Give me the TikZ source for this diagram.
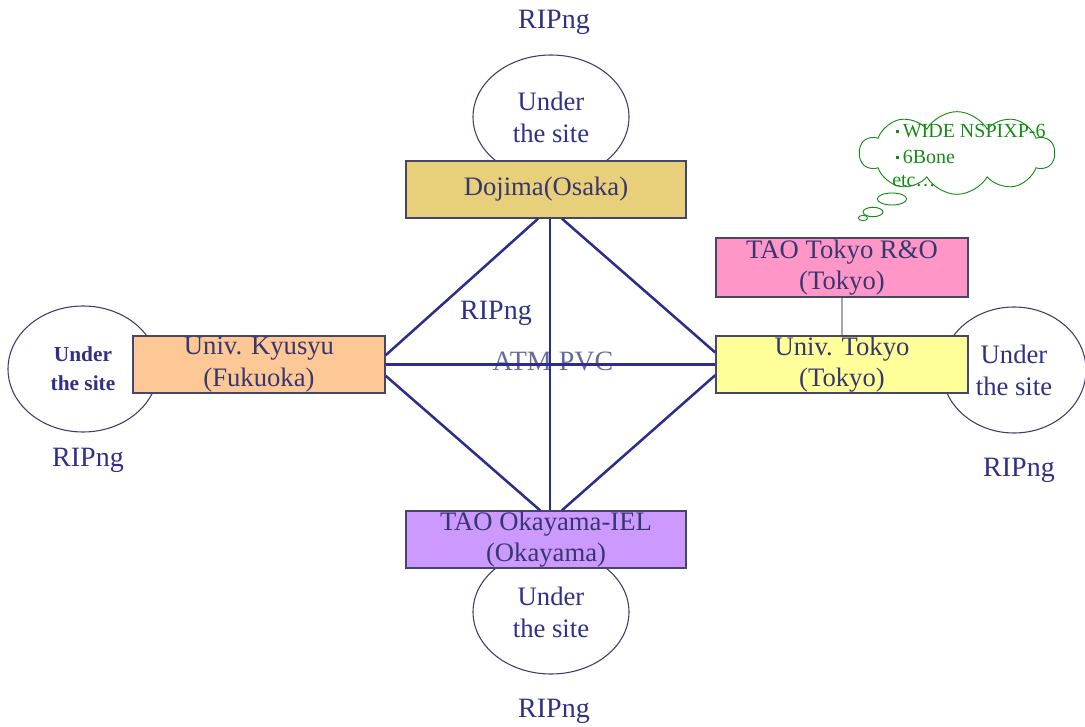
\documentclass[tikz,border=0pt]{standalone}
\usepackage{fontspec}
\setmainfont{Liberation Serif}
\usetikzlibrary{shapes.geometric,shapes.symbols}
\definecolor{txt}{RGB}{48,48,135}
\definecolor{boxtxt}{RGB}{55,55,110}
\definecolor{linkc}{RGB}{45,45,140}
\definecolor{boxline}{RGB}{70,70,105}
\definecolor{ovalline}{RGB}{60,60,110}
\definecolor{cloudc}{RGB}{20,140,20}
\definecolor{fdojima}{RGB}{232,207,122}
\definecolor{fkyusyu}{RGB}{254,200,150}
\definecolor{ftaotokyo}{RGB}{255,150,200}
\definecolor{ftokyo}{RGB}{255,255,153}
\definecolor{fokayama}{RGB}{204,153,255}
\definecolor{atmc}{RGB}{105,105,160}
\begin{document}
\begin{tikzpicture}[x=0.75pt,y=-0.75pt,
  sitebox/.style={draw=boxline, line width=1.1pt, inner sep=0pt, align=center,
    text=boxtxt, font=\fontsize{20}{23.5}\selectfont},
  oval/.style={ellipse, draw=ovalline, line width=0.8pt, fill=white, inner sep=0pt,
    align=center, text=txt, font=\fontsize{20}{24}\selectfont},
  link/.style={draw=linkc, line width=1.9pt},
  lbl/.style={text=txt, font=\fontsize{21}{24}\selectfont, inner sep=0pt},
  ctext/.style={text=cloudc, font=\fontsize{15}{17}\selectfont, inner sep=0pt, anchor=west},
  bubble/.style={ellipse, draw=cloudc, line width=0.7pt, inner sep=0pt}
]
\useasboundingbox (0,0) rectangle (1085,727);

% ovals (under boxes)
\node[oval, minimum width=117pt, minimum height=93pt] (otop) at (551,117) {Under\\the site};
\node[oval, minimum width=112.5pt, minimum height=94.5pt,
      font=\bfseries\fontsize{16}{22}\selectfont] (oleft) at (83,369) {Under\\the site};
\node[oval, minimum width=108pt, minimum height=94.5pt] (oright) at (1014,370) {Under\\the site};
\node[oval, minimum width=117pt, minimum height=93pt] (obottom) at (551,612) {Under\\the site};

% labels
\node[lbl] (rtop) at (554,22) {RIPng};
\node[lbl] (rleft) at (88,460) {RIPng};
\node[lbl] (rright) at (1019,470) {RIPng};
\node[lbl] (rbottom) at (554,711) {RIPng};
\node[lbl] (rmid) at (496,313) {RIPng};
\node[lbl, text=atmc] (atm) at (553,361) {ATM PVC};

% boxes
\node[sitebox, fill=fdojima, minimum width=210pt, minimum height=42.75pt] (dojima) at (546,189.5)
  {\raisebox{-3pt}{Dojima(Osaka)}};
\node[sitebox, fill=fkyusyu, minimum width=189pt, minimum height=42.75pt] (kyusyu) at (259,364.5)
  {Univ. Kyusyu\\(Fukuoka)};
\node[sitebox, fill=ftaotokyo, minimum width=189pt, minimum height=44.25pt] (taotokyo) at (842,267.5)
  {TAO Tokyo R\&O\\(Tokyo)};
\node[sitebox, fill=ftokyo, minimum width=189pt, minimum height=42.75pt] (tokyo) at (842,364.5)
  {Univ. Tokyo\\(Tokyo)};
\node[sitebox, fill=fokayama, minimum width=210pt, minimum height=42.75pt] (okayama) at (546,539.5)
  {TAO Okayama-IEL\\(Okayama)};

% links
\draw[link] ([xshift=-6pt]dojima.south) -- ([yshift=7pt]kyusyu.east);
\draw[link] ([xshift=12pt]dojima.south) -- ([yshift=9pt]tokyo.west);
\draw[link] ([xshift=3pt]dojima.south) -- ([xshift=3pt]okayama.north);
\draw[link] (kyusyu.east) -- (tokyo.west);
\draw[link] ([yshift=-8.5pt]kyusyu.east) -- ([xshift=-4.5pt]okayama.north);
\draw[link] ([yshift=-8pt]tokyo.west) -- ([xshift=12pt]okayama.north);
\draw[gray!70, line width=0.8pt] (taotokyo.south) -- (tokyo.north);

% cloud
\node[cloud, draw=cloudc, line width=0.7pt, cloud puffs=10, cloud puff arc=120, aspect=2.3,
      minimum width=146pt, minimum height=62pt, inner sep=0pt] (cloud) at (957,153) {};
\node[bubble, minimum width=22pt, minimum height=9pt] (b1) at (892,199) {};
\node[bubble, minimum width=15pt, minimum height=7pt] (b2) at (873,212) {};
\node[bubble, minimum width=7pt, minimum height=4pt] (b3) at (863,218) {};
\node[ctext] (c1) at (896,131) {\rule[3.5pt]{2.4pt}{2.4pt}\,WIDE NSPIXP-6};
\node[ctext] (c2) at (896,157) {\rule[3.5pt]{2.4pt}{2.4pt}\,6Bone};
\node[ctext] (c3) at (892,181) {etc…};
\end{tikzpicture}
\end{document}
